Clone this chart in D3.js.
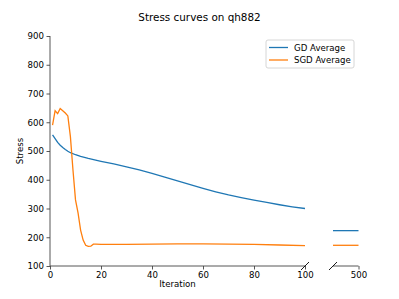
<!DOCTYPE html>
<html>
<head>
<meta charset="utf-8">
<script src="https://cdn.jsdelivr.net/npm/d3@7"></script>
<style>
  body { margin: 0; background: #fff; }
  text { font-family: "DejaVu Sans", sans-serif; fill: #000; }
</style>
</head>
<body>
<div id="chart"></div>
<script>
// Dati
const gdIter = [1, 2, 3, 4, 5, 6, 7, 8, 10, 12, 15, 20, 25, 30, 35, 40, 45, 50, 55, 60, 65, 70, 75, 80, 85, 90, 95, 100];
const gdStress = [556, 543, 530, 520, 512, 505, 499, 494, 487, 481, 474, 464, 455, 445, 434, 422, 409, 396, 383, 370, 358, 347, 338, 329, 321, 313, 306, 300];
const sgdIter = [1, 2, 3, 4, 5, 6, 7, 8, 9, 10, 11, 12, 13, 14, 15, 16, 17, 18, 20, 30, 40, 50, 60, 70, 80, 90, 100];
const sgdStress = [590, 640, 630, 648, 640, 632, 622, 550, 435, 330, 285, 225, 190, 172, 168, 169, 176, 176, 175, 175, 176, 177, 177, 176, 175, 173, 171];
// Coda (pannello destro)
const tailIter = [490, 500];
const gdTail = [223, 223];
const sgdTail = [172, 172];

const leftTicks = [0, 20, 40, 60, 80, 100];
const rightTicks = [500];
const yTicks = [100, 200, 300, 400, 500, 600, 700, 800, 900];
const seriesNames = ["GD Average", "SGD Average"];
const colors = ["#1f77b4", "#ff7f0e"];

const width = 399, height = 299;
const plotTop = 36, plotBottom = 266;

const svg = d3.select("#chart")
    .append("svg")
    .attr("width", width)
    .attr("height", height)

// Scale
const xLeft = d3.scaleLinear().domain([0, 100]).range([50, 305]);
const xRight = d3.scaleLinear().domain([490, 500]).range([333, 358.5]);
const y = d3.scaleLinear().domain([100, 900]).range([plotBottom, plotTop]);

// Assi
const yAxis = svg.append("g")
    .attr("transform", "translate(50,0)")
    .call(d3.axisLeft(y).tickValues(yTicks).tickSize(3.5).tickPadding(2.5))
const xAxisL = svg.append("g")
    .attr("transform", `translate(0,${plotBottom})`)
    .call(d3.axisBottom(xLeft).tickValues(leftTicks).tickSize(3.5).tickPadding(2.5))
const xAxisR = svg.append("g")
    .attr("transform", `translate(0,${plotBottom})`)
    .call(d3.axisBottom(xRight).tickValues(rightTicks).tickSize(3.5).tickPadding(2.5))

for (const ax of [yAxis, xAxisL, xAxisR]) {
    ax.selectAll("path.domain").attr("stroke", "#444").attr("stroke-width", 0.9);
    ax.selectAll(".tick line").attr("stroke", "#444").attr("stroke-width", 0.9);
    ax.selectAll(".tick text").style("font-size", "8.6px").attr("fill", "#000");
}
// tolgo le "orecchie" dei domini
yAxis.select("path.domain").attr("d", `M0,${plotTop}V${plotBottom}`);
xAxisL.select("path.domain").attr("d", `M${xLeft.range()[0]},0H${xLeft.range()[1]}`);
xAxisR.select("path.domain").attr("d", `M${xRight.range()[0]},0H${xRight.range()[1]}`);

// Segni di interruzione
const brk = [xLeft.range()[1], xRight.range()[0]];
brk.forEach(bx => {
    svg.append("line")
        .attr("x1", bx - 4).attr("y1", plotBottom + 4)
        .attr("x2", bx + 4).attr("y2", plotBottom - 4)
        .attr("stroke", "#000").attr("stroke-width", 0.9)
});

// Linee
const lineL = d3.line().x(d => xLeft(d[0])).y(d => y(d[1]));
const lineR = d3.line().x(d => xRight(d[0])).y(d => y(d[1]));

svg.append("path").datum(d3.zip(gdIter, gdStress))
    .attr("d", lineL).attr("fill", "none").attr("stroke", colors[0]).attr("stroke-width", 1.3)
svg.append("path").datum(d3.zip(sgdIter, sgdStress))
    .attr("d", lineL).attr("fill", "none").attr("stroke", colors[1]).attr("stroke-width", 1.3)
svg.append("path").datum(d3.zip(tailIter, gdTail))
    .attr("d", lineR).attr("fill", "none").attr("stroke", colors[0]).attr("stroke-width", 1.3)
svg.append("path").datum(d3.zip(tailIter, sgdTail))
    .attr("d", lineR).attr("fill", "none").attr("stroke", colors[1]).attr("stroke-width", 1.3)

// Titolo ed etichette
svg.append("text")
    .attr("x", 199.5).attr("y", 21)
    .attr("text-anchor", "middle")
    .style("font-size", "10.4px")
    .text("Stress curves on qh882")
svg.append("text")
    .attr("x", (xLeft.range()[0] + xLeft.range()[1]) / 2).attr("y", 287)
    .attr("text-anchor", "middle")
    .style("font-size", "8.6px")
    .text("Iteration")
svg.append("text")
    .attr("transform", `translate(22.5,${(plotTop + plotBottom) / 2}) rotate(-90)`)
    .attr("text-anchor", "middle")
    .style("font-size", "8.6px")
    .text("Stress")

// Legenda
const leg = svg.append("g").attr("transform", "translate(266,40)")
leg.append("rect")
    .attr("width", 88).attr("height", 28).attr("rx", 2)
    .attr("fill", "#fff").attr("stroke", "#ccc").attr("stroke-width", 0.8)
seriesNames.forEach((name, i) => {
    leg.append("line")
        .attr("x1", 3).attr("x2", 22)
        .attr("y1", 7.5 + i * 12.5).attr("y2", 7.5 + i * 12.5)
        .attr("stroke", colors[i]).attr("stroke-width", 1.3)
    leg.append("text")
        .attr("x", 28).attr("y", 7.5 + i * 12.5)
        .attr("dominant-baseline", "central")
        .style("font-size", "8.6px")
        .text(name)
});
</script>
</body>
</html>
